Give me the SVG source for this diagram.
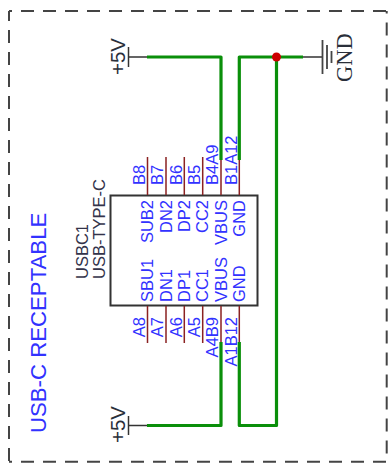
<svg xmlns="http://www.w3.org/2000/svg" width="390" height="465" viewBox="0 0 390 465">
<style>
.b{fill:#3232ff;font-family:"Liberation Sans",Arial,sans-serif;font-size:16.5px}
.e{text-anchor:end}
.n{fill:#33334a;font-family:"Liberation Sans",Arial,sans-serif;font-size:16.5px}
.k{fill:#2a2f3a;font-family:"Liberation Sans",Arial,sans-serif;font-size:20.500px}
.g{fill:#2a2f3a;font-family:"Liberation Serif","Times New Roman",serif;font-size:22.500px}
.pin{stroke:#8b2222;stroke-width:1.5;fill:none}
.w{stroke:#0a8f0a;stroke-width:3.2;fill:none;stroke-linejoin:round}
.bl{stroke:#333;stroke-width:1.5;fill:none}
.f{fill:none;stroke:#444;stroke-width:2;stroke-dasharray:13 9}
</style>
<g id="frame">
<path class="f" stroke-dashoffset="10" d="M9,11H387"/>
<path class="f" stroke-dashoffset="10" d="M9,461.700H387"/>
<path class="f" stroke-dashoffset="3" d="M9,11V462"/>
<path class="f" stroke-dashoffset="10.500" d="M386.700,11V462"/>
</g>
<g id="title"><text class="b" transform="translate(46,433) rotate(-90)" style="font-size:22.200px">USB-C RECEPTABLE</text></g>
<g id="usbc1">
<rect x="110.500" y="195.500" width="147" height="110" fill="#fff" stroke="#333" stroke-width="2"/>
<path class="pin" d="M147.500,157V195M166,157V195M184.300,157V195M202.700,157V195M221,157V195M239.300,157V195M147.500,306V343M166,306V343M184.300,306V343M202.700,306V343M221,306V343M239.300,306V343"/>
<text class="n" transform="translate(88,279) rotate(-90)">USBC1</text>
<text class="n" transform="translate(105,279) rotate(-90)">USB-TYPE-C</text>
<g class="b">
<text transform="translate(145,185) rotate(-90)">B8</text>
<text transform="translate(163,185) rotate(-90)">B7</text>
<text transform="translate(181.500,185) rotate(-90)">B6</text>
<text transform="translate(200,185) rotate(-90)">B5</text>
<text transform="translate(218,185) rotate(-90)">B4A9</text>
<text transform="translate(236.500,185) rotate(-90)">B1A12</text>
<text class="e" transform="translate(145,317) rotate(-90)">A8</text>
<text class="e" transform="translate(163,317) rotate(-90)">A7</text>
<text class="e" transform="translate(181.500,317) rotate(-90)">A6</text>
<text class="e" transform="translate(200,317) rotate(-90)">A5</text>
<text class="e" transform="translate(218,317) rotate(-90)">A4B9</text>
<text class="e" transform="translate(236.500,317) rotate(-90)">A1B12</text>
<text class="e" transform="translate(153,200) rotate(-90)">SUB2</text>
<text class="e" transform="translate(171.500,200) rotate(-90)">DN2</text>
<text class="e" transform="translate(190,200) rotate(-90)">DP2</text>
<text class="e" transform="translate(208,200) rotate(-90)">CC2</text>
<text class="e" transform="translate(226.500,200) rotate(-90)">VBUS</text>
<text class="e" transform="translate(245,200) rotate(-90)">GND</text>
<text transform="translate(153,302) rotate(-90)">SBU1</text>
<text transform="translate(171.500,302) rotate(-90)">DN1</text>
<text transform="translate(190,302) rotate(-90)">DP1</text>
<text transform="translate(208,302) rotate(-90)">CC1</text>
<text transform="translate(226.500,302) rotate(-90)">VBUS</text>
<text transform="translate(245,302) rotate(-90)">GND</text>
</g>
</g>
<g id="connectors">
<path class="w" d="M147,57H221V160"/>
<path class="w" d="M239.300,160V57H303"/>
<path class="w" d="M276.500,57V425.500H239.300V342"/>
<path class="w" d="M221,342V425.500H147"/>
<path class="bl" d="M129,57H147M129,425.500H147M322,57H303"/>
</g>
<g id="p5v-top">
<path class="bl" d="M128.500,47V67"/>
<text class="k" transform="translate(125,75) rotate(-90)">+5V</text>
</g>
<g id="p5v-bottom">
<path class="bl" d="M128.500,416V435"/>
<text class="k" transform="translate(125,443) rotate(-90)">+5V</text>
</g>
<g id="gnd">
<path d="M322.500,40V74M327,45V69M331.500,51V63" fill="none" stroke="#444" stroke-width="1.800"/>
<text class="g" transform="translate(352,82) rotate(-90)">GND</text>
</g>
<circle id="junction" cx="276.500" cy="57" r="4.500" fill="#cc0000"/>
</svg>
